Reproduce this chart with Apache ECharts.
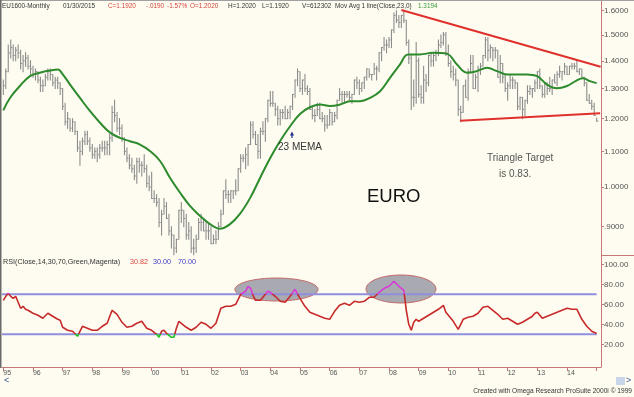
<!DOCTYPE html>
<html><head><meta charset="utf-8">
<script src="https://cdn.jsdelivr.net/npm/echarts@6/dist/echarts.min.js"></script>
<style>html,body{margin:0;padding:0;background:#fefcf0;}#c{width:634px;height:397px;}</style>
</head><body><div id="c"></div>
<script>
// ---------- DATA ----------
const yearLabels = ['95','96','97','98','99','00','01','02','03','04','05','06','07','08','09','10','11','12','13','14'];
const priceTicks = [0.9,1.0,1.1,1.2,1.3,1.4,1.5,1.6];
const rsiTicks = [20,40,60,80,100];
const rsiLevels = [30,70];

// monthly bars Jan 1995 .. Jan 2015
const priceHigh = [
1.33,1.37,1.46,1.48,1.46,1.45,1.46,1.44,1.42,1.43,1.42,1.40,
1.38,1.37,1.36,1.34,1.33,1.35,1.37,1.37,1.35,1.34,1.34,1.32,
1.30,1.25,1.22,1.20,1.20,1.19,1.16,1.13,1.14,1.16,1.16,1.14,
1.12,1.11,1.11,1.12,1.13,1.13,1.13,1.15,1.24,1.26,1.22,1.20,
1.18,1.14,1.11,1.09,1.08,1.06,1.08,1.08,1.07,1.09,1.06,1.03,
1.04,0.99,0.98,0.97,0.94,0.97,0.96,0.93,0.90,0.88,0.87,0.94,
0.96,0.94,0.93,0.91,0.90,0.87,0.88,0.92,0.93,0.92,0.91,0.91,
0.90,0.88,0.89,0.91,0.94,0.99,1.02,0.99,0.99,0.99,1.02,1.05,
1.09,1.09,1.11,1.12,1.19,1.19,1.16,1.15,1.17,1.19,1.20,1.26,
1.29,1.29,1.25,1.24,1.23,1.23,1.24,1.23,1.24,1.28,1.33,1.37,
1.36,1.33,1.35,1.31,1.30,1.24,1.23,1.25,1.25,1.22,1.21,1.21,
1.23,1.22,1.22,1.26,1.30,1.29,1.29,1.29,1.29,1.28,1.33,1.34,
1.33,1.32,1.34,1.37,1.37,1.35,1.39,1.38,1.43,1.45,1.49,1.48,
1.49,1.52,1.59,1.60,1.58,1.58,1.60,1.56,1.48,1.42,1.33,1.47,
1.41,1.31,1.38,1.35,1.42,1.43,1.43,1.44,1.48,1.50,1.51,1.51,
1.46,1.40,1.38,1.37,1.33,1.24,1.31,1.33,1.37,1.42,1.42,1.35,
1.38,1.39,1.42,1.49,1.49,1.46,1.45,1.45,1.44,1.42,1.39,1.35,
1.32,1.35,1.34,1.33,1.32,1.27,1.27,1.26,1.31,1.31,1.30,1.33,
1.36,1.37,1.31,1.32,1.32,1.34,1.33,1.35,1.36,1.38,1.36,1.39,
1.38,1.38,1.39,1.39,1.40,1.37,1.37,1.34,1.32,1.28,1.26,1.25,
1.202];
const priceLow = [
1.28,1.30,1.36,1.41,1.40,1.40,1.41,1.37,1.36,1.38,1.37,1.35,
1.34,1.33,1.32,1.29,1.29,1.31,1.33,1.33,1.31,1.30,1.30,1.28,
1.23,1.18,1.17,1.16,1.16,1.15,1.10,1.06,1.09,1.12,1.12,1.10,
1.08,1.08,1.07,1.08,1.10,1.09,1.09,1.09,1.13,1.19,1.16,1.15,
1.13,1.09,1.07,1.05,1.04,1.02,1.01,1.04,1.03,1.04,1.00,0.99,
0.97,0.96,0.95,0.90,0.88,0.93,0.92,0.88,0.85,0.835,0.84,0.87,
0.91,0.90,0.87,0.87,0.84,0.835,0.84,0.87,0.89,0.89,0.87,0.87,
0.86,0.86,0.86,0.87,0.90,0.93,0.97,0.96,0.96,0.97,0.98,0.99,
1.04,1.07,1.05,1.06,1.12,1.14,1.12,1.08,1.08,1.15,1.13,1.19,
1.24,1.24,1.21,1.18,1.18,1.20,1.20,1.20,1.20,1.23,1.27,1.31,
1.29,1.28,1.29,1.28,1.23,1.20,1.19,1.21,1.20,1.19,1.16,1.17,
1.18,1.18,1.19,1.20,1.26,1.25,1.25,1.27,1.26,1.25,1.28,1.30,
1.28,1.29,1.30,1.33,1.34,1.33,1.35,1.33,1.36,1.40,1.44,1.43,
1.45,1.45,1.51,1.55,1.53,1.53,1.55,1.46,1.39,1.23,1.24,1.25,
1.27,1.25,1.25,1.29,1.31,1.38,1.38,1.40,1.42,1.45,1.46,1.42,
1.38,1.34,1.33,1.31,1.21,1.19,1.22,1.27,1.26,1.36,1.30,1.30,
1.29,1.35,1.38,1.41,1.40,1.41,1.40,1.41,1.34,1.32,1.32,1.29,
1.26,1.30,1.30,1.30,1.23,1.23,1.20,1.21,1.25,1.28,1.27,1.29,
1.30,1.30,1.27,1.27,1.28,1.29,1.28,1.32,1.31,1.34,1.33,1.35,
1.35,1.35,1.37,1.37,1.36,1.35,1.34,1.31,1.26,1.25,1.23,1.21,
1.192];
const priceClose = [
1.31,1.36,1.43,1.45,1.42,1.44,1.43,1.39,1.40,1.41,1.38,1.37,
1.35,1.36,1.33,1.31,1.31,1.34,1.36,1.35,1.32,1.33,1.32,1.30,
1.24,1.19,1.20,1.17,1.19,1.16,1.11,1.10,1.13,1.15,1.13,1.11,
1.09,1.10,1.09,1.11,1.11,1.11,1.12,1.14,1.22,1.21,1.17,1.17,
1.14,1.10,1.08,1.06,1.05,1.03,1.07,1.06,1.06,1.05,1.01,1.00,
0.97,0.97,0.96,0.91,0.93,0.95,0.92,0.89,0.88,0.85,0.87,0.94,
0.94,0.92,0.88,0.89,0.85,0.85,0.87,0.91,0.91,0.89,0.89,0.89,
0.86,0.87,0.87,0.90,0.93,0.99,0.98,0.98,0.99,0.99,0.99,1.05,
1.08,1.08,1.09,1.12,1.18,1.15,1.12,1.10,1.16,1.16,1.20,1.26,
1.25,1.25,1.23,1.20,1.22,1.22,1.20,1.22,1.24,1.28,1.33,1.36,
1.30,1.33,1.30,1.29,1.23,1.21,1.21,1.23,1.20,1.20,1.18,1.18,
1.22,1.19,1.21,1.26,1.28,1.28,1.28,1.28,1.27,1.28,1.33,1.32,
1.30,1.32,1.34,1.37,1.35,1.35,1.37,1.37,1.43,1.45,1.46,1.46,
1.48,1.52,1.58,1.56,1.55,1.58,1.56,1.47,1.41,1.27,1.27,1.40,
1.28,1.27,1.33,1.32,1.42,1.40,1.42,1.43,1.46,1.47,1.50,1.43,
1.39,1.36,1.35,1.33,1.23,1.22,1.31,1.27,1.36,1.39,1.30,1.34,
1.37,1.38,1.42,1.48,1.44,1.45,1.44,1.44,1.34,1.39,1.34,1.30,
1.31,1.33,1.33,1.32,1.24,1.27,1.23,1.26,1.29,1.30,1.30,1.32,
1.36,1.31,1.28,1.32,1.30,1.30,1.33,1.32,1.35,1.36,1.36,1.38,
1.35,1.38,1.38,1.38,1.36,1.37,1.34,1.32,1.26,1.25,1.24,1.21,
1.192];

// 23-month moving average [month index, value]
const maPoints = [[0,1.227],[2.7,1.268],[6.7,1.309],[10.8,1.344],[14.8,1.356],[18.9,1.364],[22.2,1.368],[23.6,1.356],
[27,1.314],[31,1.268],[35.1,1.224],[39.1,1.187],[43.2,1.156],[47.2,1.140],[51.2,1.130],[55.3,1.120],[59.3,1.101],
[63.4,1.072],[67.4,1.025],[71.5,0.985],[75.5,0.951],[79.6,0.926],[83.6,0.906],[87.6,0.895],[91.7,0.906],[95.7,0.931],
[99.8,0.971],[103.8,1.024],[107.9,1.080],[111.9,1.130],[116,1.176],[120,1.215],[124,1.237],[128.1,1.246],[132.1,1.241],
[136.2,1.246],[140.2,1.257],[144.3,1.257],[148.3,1.268],[152.4,1.291],[156.4,1.338],[160.4,1.386],[163.7,1.424],
[168.5,1.424],[173.8,1.430],[179.5,1.426],[183.5,1.386],[187.5,1.356],[191.6,1.362],[195.6,1.374],[199.7,1.362],
[203.7,1.350],[207.8,1.350],[211.8,1.350],[215.9,1.344],[219.9,1.314],[223.9,1.301],[228,1.309],[232,1.329],
[234.5,1.336],[237.3,1.326],[240,1.319]];

// triangle lines [month, price]
const upperTrend = [[161,1.603],[241.6,1.378]];
const lowerTrend = [[184.7,1.1935],[241.4,1.217]];

// RSI(14) [month, value]
const rsiPoints = [[0,64],[1,68],[2,71],[3,68],[4,66],[5,68],[6,62],[7,56],[8,58],[9,55],[10,54],[12,51],[14,49],[16,46],
[18,51],[20,48],[22,45],[23,44],[24,37],[26,34],[28,33],[30,28],[32,38],[34,36],[36,34],[38,34],[40,38],[42,41],[44,54],
[46,50],[48,42],[50,37],[52,38],[54,41],[56,43],[58,36],[60,34],[62,30],[63,27],[64,33],[65,34],[66,31],[68,27],[69,27],
[70,36],[71,43],[72,41],[74,37],[76,34],[78,37],[80,42],[82,40],[84,36],[86,41],[88,56],[90,58],[92,58],[94,60],[96,70],
[98,73],[99,78],[100,76],[101,69],[102,64],[104,64],[106,70],[107,73],[108,72],[110,68],[112,63],[114,62],[116,68],
[118,75],[120,66],[122,58],[124,52],[126,50],[128,48],[130,46],[132,45],[134,53],[136,59],[138,61],[140,59],[142,63],
[144,62],[146,63],[148,67],[150,67],[152,72],[154,76],[156,78],[158,83],[160,78],[162,74],[163,54],[164,40],[165,34],
[166,42],[167,45],[168,43],[170,46],[172,49],[174,52],[176,55],[178,59],[179,52],[180,49],[182,43],[184,35],[186,45],
[188,47],[190,48],[192,51],[194,57],[196,58],[198,54],[200,50],[202,45],[204,46],[206,43],[208,40],[210,42],[212,45],
[214,48],[215,51],[216,52],[218,46],[220,48],[222,50],[224,52],[226,54],[228,56],[230,55],[232,55],[234,45],[236,38],
[238,33],[240,30.82]];

// ---------- CHART ----------
const FONT = '"Liberation Sans", Arial, sans-serif';
const AX = '#c47878';
const ln = Math.log;
const XMIN = -0.53, XMAX = 241.75;
const YMIN = ln(0.8345), YMAX = ln(1.6417);
const yearTickVals = yearLabels.map((_, i) => i * 12).concat([240]);
const yearLabelVals = yearLabels.map((_, i) => i * 12);
const barData = priceHigh.map((h, i) => [i, ln(priceLow[i]), ln(h), ln(priceClose[i])]);

const chart = echarts.init(document.getElementById('c'), null, {renderer: 'canvas'});
const option = {
  backgroundColor: '#fefcf0',
  animation: false,
  grid: [
    {left: 2, top: 1, width: 599, height: 254},
    {left: 2, top: 255, width: 599, height: 112}
  ],
  xAxis: [
    {type: 'value', gridIndex: 0, min: XMIN, max: XMAX, show: false},
    {type: 'value', gridIndex: 1, min: XMIN, max: XMAX,
      axisLine: {show: true, onZero: false, lineStyle: {color: AX, width: 1}},
      axisTick: {show: true, customValues: yearTickVals, length: 4, lineStyle: {color: AX}},
      axisLabel: {customValues: yearLabelVals, formatter: v => yearLabels[Math.round(v / 12)],
        align: 'left', margin: 3, fontSize: 7, color: '#555', fontFamily: FONT},
      splitLine: {show: false}}
  ],
  yAxis: [
    {type: 'value', gridIndex: 0, position: 'right', min: YMIN, max: YMAX,
      axisLine: {show: true, onZero: false, lineStyle: {color: AX}},
      axisTick: {show: true, customValues: priceTicks.map(ln), length: 3, lineStyle: {color: AX}},
      axisLabel: {customValues: priceTicks.map(ln), margin: 3, fontSize: 8, color: '#555', fontFamily: FONT,
        formatter: v => { let s = Math.exp(v).toFixed(4); if (s[0] === '0') s = s.slice(1); return s; }},
      splitLine: {show: false}},
    {type: 'value', gridIndex: 1, position: 'right', min: -2.7, max: 109.3,
      axisLine: {show: true, onZero: false, lineStyle: {color: AX}},
      axisTick: {show: true, customValues: rsiTicks, length: 3, lineStyle: {color: AX}},
      axisLabel: {customValues: rsiTicks, margin: 3, fontSize: 8, color: '#555', fontFamily: FONT,
        formatter: v => v.toFixed(2)},
      splitLine: {show: false}}
  ],
  visualMap: {
    show: false, type: 'piecewise', seriesIndex: 6, dimension: 1,
    pieces: [{lt: 30, color: '#22c022'}, {gte: 30, lte: 70, color: '#c62a2a'}, {gt: 70, color: '#d83ad8'}]
  },
  series: [
    {type: 'custom', xAxisIndex: 0, yAxisIndex: 0, data: barData, encode: {x: 0, y: [1, 2, 3]}, z: 2,
      renderItem: (params, api) => {
        const m = api.value(0);
        const lo = api.coord([m, api.value(1)]);
        const hi = api.coord([m, api.value(2)]);
        const cl = api.coord([m, api.value(3)]);
        return {type: 'group', children: [
          {type: 'line', shape: {x1: lo[0], y1: lo[1] + 0.5, x2: hi[0], y2: hi[1] - 0.5}, style: {stroke: '#8c8c8c', lineWidth: 1.1}},
          {type: 'line', shape: {x1: cl[0], y1: cl[1], x2: cl[0] + 1.6, y2: cl[1]}, style: {stroke: '#8c8c8c', lineWidth: 1}}
        ]};
      }},
    {type: 'line', xAxisIndex: 0, yAxisIndex: 0, data: maPoints.map(p => [p[0], ln(p[1])]), smooth: 0.4,
      showSymbol: false, lineStyle: {color: '#2d8a2d', width: 2}, z: 3},
    {type: 'line', xAxisIndex: 0, yAxisIndex: 0, data: upperTrend.map(p => [p[0], ln(p[1])]),
      showSymbol: false, lineStyle: {color: '#e0302c', width: 2}, z: 4},
    {type: 'line', xAxisIndex: 0, yAxisIndex: 0, data: lowerTrend.map(p => [p[0], ln(p[1])]),
      showSymbol: false, lineStyle: {color: '#e0302c', width: 2}, z: 4},
    {type: 'line', xAxisIndex: 1, yAxisIndex: 1, data: [[XMIN, rsiLevels[1]], [240, rsiLevels[1]]],
      showSymbol: false, lineStyle: {color: '#8f8fde', width: 2}, z: 1},
    {type: 'line', xAxisIndex: 1, yAxisIndex: 1, data: [[XMIN, rsiLevels[0]], [240, rsiLevels[0]]],
      showSymbol: false, lineStyle: {color: '#8f8fde', width: 2}, z: 1},
    {type: 'line', xAxisIndex: 1, yAxisIndex: 1, data: rsiPoints, showSymbol: false,
      lineStyle: {width: 1.6}, z: 3}
  ]
};
chart.setOption(option);

// ---------- ANNOTATIONS ----------
function ellipsePts(m0, m1, v0, v1) {
  const a = chart.convertToPixel({gridIndex: 1}, [m0, v1]);
  const b = chart.convertToPixel({gridIndex: 1}, [m1, v0]);
  const cx = (a[0] + b[0]) / 2, cy = (a[1] + b[1]) / 2, rx = (b[0] - a[0]) / 2, ry = (b[1] - a[1]) / 2;
  const pts = [];
  for (let k = 0; k < 64; k++) { const t = k / 64 * Math.PI * 2; pts.push([cx + rx * Math.cos(t), cy + ry * Math.sin(t)]); }
  return pts;
}
function txt(x, y, s, fill, size, align) {
  return {type: 'text', x: x, y: y, z: 10,
    style: {text: s, fill: fill, font: (size || 8) + 'px ' + FONT, textVerticalAlign: 'middle', textAlign: align || 'left'}};
}
const DARK = '#333', RED = '#d4453f', BLUE = '#3b3bc4', GREEN = '#3a9a3a';
const HS = 6.4;
const graphics = [
  {type: 'polygon', z: 0, shape: {points: ellipsePts(93.7, 127.3, 63.3, 86.3)}, style: {fill: '#a9a9b1', stroke: '#c46a6a', lineWidth: 1}},
  {type: 'polygon', z: 0, shape: {points: ellipsePts(146.7, 175, 61.3, 89.3)}, style: {fill: '#a9a9b1', stroke: '#c46a6a', lineWidth: 1}},
  {type: 'rect', z: 10, shape: {x: 0, y: 0, width: 634, height: 1}, style: {fill: '#a0a0a0'}},
  {type: 'rect', z: 10, shape: {x: 0, y: 0, width: 1.5, height: 368}, style: {fill: '#6a6a6a'}},
  {type: 'line', z: 10, shape: {x1: 601, y1: 255.5, x2: 634, y2: 255.5}, style: {stroke: AX, lineWidth: 1}},
  txt(2, 6, 'EU1600-Monthly', DARK, HS),
  txt(63, 6, '01/30/2015', DARK, HS),
  txt(108, 6, 'C=1.1920', RED, HS),
  txt(146, 6, '-.0190', RED, HS),
  txt(167, 6, '-1.57%', RED, HS),
  txt(190, 6, 'O=1.2020', RED, HS),
  txt(228, 6, 'H=1.2020', DARK, HS),
  txt(262, 6, 'L=1.1920', DARK, HS),
  txt(302, 6, 'V=612302', DARK, HS),
  txt(335, 6, 'Mov Avg 1 line(Close,23,0)', DARK, HS),
  txt(418, 6, '1.3194', GREEN, HS),
  txt(3, 262, 'RSI(Close,14,30,70,Green,Magenta)', DARK, 7.2),
  txt(130, 262, '30.82', RED, 7.2),
  txt(153, 262, '30.00', BLUE, 7.2),
  txt(178, 262, '70.00', BLUE, 7.2),
  txt(278, 147, '23 MEMA', '#333', 10),
  {type: 'polygon', z: 10, shape: {points: [[290, 135.5], [294, 135.5], [292, 131.5]]}, style: {fill: '#1c2a8a'}},
  {type: 'line', z: 10, shape: {x1: 292, y1: 135, x2: 292, y2: 138}, style: {stroke: '#1c2a8a', lineWidth: 1.2}},
  txt(367, 197, 'EURO', '#111', 18.5),
  txt(487, 158, 'Triangle Target', '#555', 10),
  txt(499, 174, 'is 0.83.', '#555', 10),
  txt(4, 381, '<', '#3a5a9a', 9),
  {type: 'rect', z: 9, shape: {x: 616, y: 377, width: 9, height: 8}, style: {fill: '#c9d6ea'}},
  txt(626, 381, '>', '#3a5a9a', 9),
  txt(632, 391, 'Created with Omega Research ProSuite 2000i \u00a9 1999', DARK, 6.6, 'right')
];
chart.setOption({graphic: graphics});
</script>
</body></html>
